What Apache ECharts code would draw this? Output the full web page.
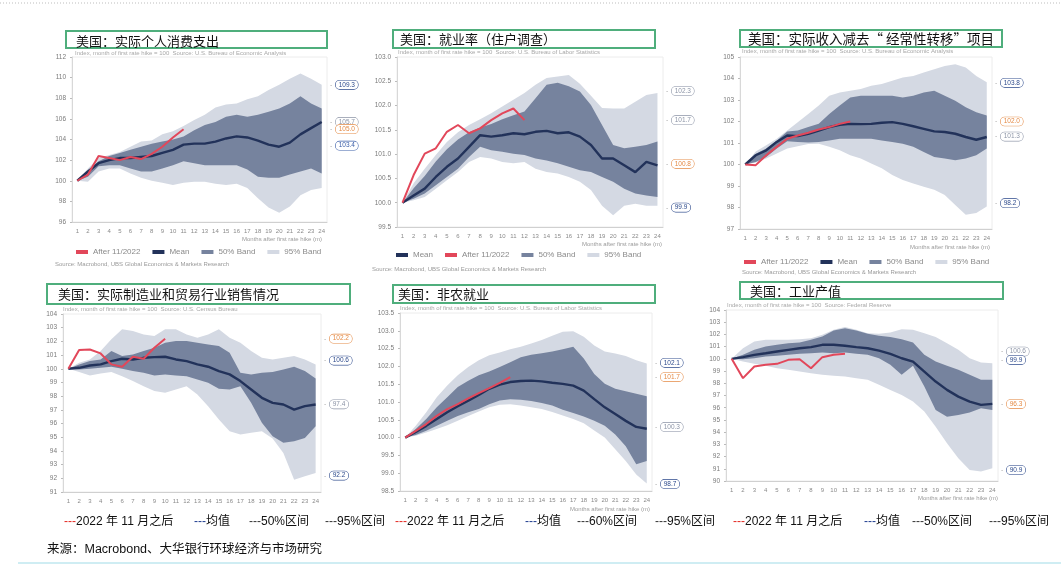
<!DOCTYPE html>
<html>
<head>
<meta charset="utf-8">
<script src="https://cdn.jsdelivr.net/npm/echarts@6/dist/echarts.min.js"></script>
<style>
  html, body { margin: 0; padding: 0; background: #ffffff; }
  #chart { width: 1061px; height: 566px; }
</style>
</head>
<body>
<div id="chart"></div>
<script>
// Months after the first rate hike (index = 100 in month 1)
const months = ['1','2','3','4','5','6','7','8','9','10','11','12','13','14','15','16','17','18','19','20','21','22','23','24'];

// 美国：实际个人消费支出
const pceMean  = [100, 100.9, 101.7, 102.0, 102.2, 102.2, 102.3, 102.4, 102.7, 103.0, 103.5, 103.6, 103.6, 103.8, 104.1, 104.3, 104.2, 103.9, 103.5, 103.3, 103.7, 104.5, 105.1, 105.7];
const pceAfter = [100, 100.6, 102.4, 102.2, 102.0, 102.3, 102.1, 102.6, 103.3, 104.2, 105.0];
const pce50Hi  = [100, 101.0, 101.9, 102.4, 102.7, 103.0, 103.3, 103.6, 103.8, 104.0, 104.3, 104.9, 105.4, 105.7, 106.2, 106.4, 106.2, 106.4, 106.7, 107.0, 107.5, 108.2, 107.5, 107.0];
const pce50Lo  = [100, 100.4, 101.4, 101.5, 101.5, 101.2, 100.9, 100.9, 101.2, 101.5, 101.9, 101.7, 101.5, 101.5, 101.5, 101.5, 101.1, 100.4, 100.3, 100.3, 100.6, 100.9, 101.2, 100.7];
const pce95Hi  = [100, 101.2, 102.2, 102.5, 102.8, 103.3, 103.8, 103.9, 104.5, 104.8, 105.3, 105.9, 106.4, 107.1, 107.4, 107.5, 107.9, 108.2, 108.8, 109.3, 109.9, 110.4, 109.9, 109.3];
const pce95Lo  = [100, 99.9, 100.9, 101.2, 101.2, 100.7, 100.3, 100.0, 99.8, 99.6, 99.8, 99.9, 99.9, 99.7, 99.6, 99.7, 99.3, 98.3, 97.4, 96.9, 97.5, 98.6, 99.1, 99.3];
const pceTags  = [109.3, 105.7, 105.0, 103.4];

// 美国：就业率（住户调查）
const empMean  = [100, 100.15, 100.29, 100.53, 100.74, 100.91, 101.15, 101.39, 101.36, 101.39, 101.43, 101.41, 101.46, 101.48, 101.43, 101.45, 101.36, 101.19, 100.91, 100.91, 100.77, 100.63, 100.84, 100.77];
const empAfter = [100, 100.57, 101.01, 101.12, 101.46, 101.60, 101.43, 101.53, 101.70, 101.84, 101.94, 101.70];
const emp50Hi  = [100, 100.30, 100.55, 100.85, 101.10, 101.30, 101.45, 101.55, 101.62, 101.72, 101.80, 101.88, 102.15, 102.43, 102.47, 102.40, 102.29, 102.01, 101.60, 101.19, 101.12, 101.15, 101.19, 101.26];
const emp50Lo  = [100, 100.08, 100.19, 100.36, 100.53, 100.70, 100.94, 101.15, 101.08, 101.05, 101.01, 100.98, 100.91, 100.87, 100.81, 100.74, 100.67, 100.63, 100.53, 100.43, 100.29, 100.19, 100.15, 100.12];
const emp95Hi  = [100, 100.40, 100.70, 100.98, 101.25, 101.45, 101.60, 101.72, 101.84, 101.98, 102.12, 102.26, 102.43, 102.57, 102.60, 102.63, 102.45, 102.20, 101.95, 101.94, 101.94, 102.08, 102.22, 102.26];
const emp95Lo  = [100, 100.05, 100.12, 100.29, 100.46, 100.63, 100.84, 100.94, 100.91, 100.84, 100.81, 100.84, 100.70, 100.63, 100.60, 100.53, 100.43, 100.26, 99.94, 99.74, 99.94, 99.98, 99.94, 99.94];
const empTags  = [102.3, 101.7, 100.8, 99.9];

// 美国：实际收入减去“经常性转移”项目
const incMean  = [100, 100.43, 100.66, 101.05, 101.35, 101.32, 101.43, 101.58, 101.74, 101.85, 101.89, 101.88, 101.89, 101.94, 101.97, 101.89, 101.78, 101.66, 101.54, 101.51, 101.43, 101.28, 101.15, 101.28];
const incAfter = [100, 99.97, 100.43, 100.82, 101.20, 101.35, 101.48, 101.63, 101.74, 101.89, 102.0];
const inc50Hi  = [100, 100.50, 100.74, 101.12, 101.54, 101.58, 101.74, 101.89, 102.35, 102.74, 103.12, 103.20, 103.20, 103.20, 103.20, 103.12, 103.20, 103.35, 103.43, 103.20, 102.97, 102.66, 102.43, 102.28];
const inc50Lo  = [100, 100.12, 100.35, 100.74, 101.08, 101.05, 101.02, 101.05, 101.12, 101.20, 101.20, 101.20, 101.20, 101.12, 101.05, 100.97, 100.82, 100.58, 100.35, 100.28, 100.20, 100.28, 100.43, 100.74];
const inc95Hi  = [100, 100.60, 100.89, 101.20, 101.58, 101.97, 102.35, 102.74, 103.20, 103.35, 103.43, 103.51, 103.66, 103.74, 103.89, 104.05, 104.12, 104.28, 104.43, 104.58, 104.66, 104.51, 104.12, 103.82];
const inc95Lo  = [100, 100.09, 100.28, 100.51, 100.74, 100.85, 100.95, 100.97, 100.82, 100.66, 100.43, 100.28, 100.05, 99.82, 99.51, 99.28, 99.12, 98.97, 98.82, 98.58, 98.12, 97.66, 97.74, 98.05];
const incTags  = [103.8, 102.0, 101.3, 98.2];

// 美国：实际制造业和贸易行业销售情况
const salesMean  = [100, 100.07, 100.24, 100.32, 100.56, 100.73, 100.68, 100.80, 100.85, 100.88, 100.68, 100.56, 100.32, 100.15, 99.83, 99.59, 99.10, 98.49, 97.88, 97.51, 97.39, 97.02, 97.27, 97.39];
const salesAfter = [100, 101.37, 101.41, 101.12, 100.32, 100.15, 100.88, 100.73, 101.54, 102.20];
const sales50Hi  = [100, 100.32, 100.56, 100.68, 101.29, 100.93, 101.05, 101.29, 101.54, 101.90, 102.02, 102.02, 101.90, 101.78, 101.66, 101.17, 99.71, 99.59, 99.71, 99.76, 99.95, 100.15, 99.83, 99.29];
const sales50Lo  = [100, 99.95, 100.0, 100.07, 100.15, 100.0, 99.83, 99.71, 99.51, 99.59, 99.51, 99.46, 99.22, 98.98, 98.54, 98.49, 98.73, 97.51, 96.05, 95.07, 94.59, 94.71, 94.95, 95.80];
const sales95Hi  = [100, 100.44, 100.68, 101.29, 102.15, 102.88, 102.76, 102.51, 102.39, 102.88, 102.88, 102.51, 102.27, 102.51, 102.88, 102.27, 101.90, 101.29, 100.80, 100.68, 100.80, 100.93, 100.68, 100.32];
const sales95Lo  = [100, 99.76, 99.51, 99.66, 99.76, 99.46, 99.10, 98.73, 98.37, 98.24, 98.49, 98.73, 98.12, 97.27, 96.29, 95.44, 95.20, 95.32, 95.44, 94.90, 93.85, 91.90, 92.15, 92.39];
const salesTags  = [102.2, 100.6, 97.4, 92.2];

// 美国：非农就业
const nfpMean  = [100, 100.16, 100.33, 100.52, 100.71, 100.88, 101.04, 101.20, 101.37, 101.49, 101.56, 101.59, 101.60, 101.58, 101.54, 101.51, 101.46, 101.32, 101.08, 100.85, 100.66, 100.47, 100.30, 100.25];
const nfpAfter = [100, 100.19, 100.38, 100.61, 100.80, 100.94, 101.10, 101.25, 101.39, 101.54, 101.70];
const nfp50Hi  = [100, 100.24, 100.52, 100.85, 101.13, 101.42, 101.60, 101.75, 101.86, 101.98, 102.12, 102.26, 102.33, 102.37, 102.42, 102.48, 102.55, 102.22, 101.79, 101.51, 101.37, 101.30, 101.23, 101.16];
const nfp50Lo  = [100, 100.07, 100.19, 100.33, 100.47, 100.61, 100.71, 100.80, 100.94, 101.04, 101.08, 101.06, 101.03, 100.97, 100.90, 100.78, 100.69, 100.59, 100.47, 100.33, 100.09, 99.76, 99.25, 99.34];
const nfp95Hi  = [100, 100.33, 100.71, 101.13, 101.46, 101.75, 101.98, 102.17, 102.31, 102.39, 102.48, 102.55, 102.64, 102.74, 102.86, 102.97, 102.99, 102.83, 102.59, 102.42, 102.36, 102.29, 102.17, 102.08];
const nfp95Lo  = [100, 100.05, 100.14, 100.24, 100.35, 100.47, 100.61, 100.73, 100.85, 100.92, 100.94, 100.90, 100.85, 100.80, 100.72, 100.62, 100.52, 100.40, 100.20, 100.00, 99.67, 99.34, 98.96, 98.71];
const nfpTags  = [102.1, 101.7, 100.3, 98.7];

// 美国：工业产值
const ipMean  = [100, 100.14, 100.33, 100.46, 100.60, 100.74, 100.87, 100.96, 101.15, 101.15, 101.07, 100.96, 100.87, 100.68, 100.41, 100.05, 99.78, 98.96, 98.14, 97.46, 96.91, 96.50, 96.23, 96.31];
const ipAfter = [100, 98.42, 99.37, 99.51, 99.59, 99.92, 99.97, 99.23, 100.14, 100.33, 100.41];
const ip50Hi  = [100, 100.33, 100.74, 101.01, 101.15, 101.28, 101.34, 101.56, 101.83, 102.32, 102.51, 102.32, 102.05, 101.89, 101.78, 101.61, 101.34, 100.33, 99.78, 99.43, 99.10, 98.69, 98.28, 98.28];
const ip50Lo  = [100, 99.97, 100.05, 100.19, 100.25, 100.33, 100.41, 100.46, 100.52, 100.46, 100.52, 100.41, 100.33, 100.05, 99.51, 98.69, 99.43, 97.73, 95.82, 95.27, 95.41, 95.60, 95.96, 95.82];
const ip95Hi  = [100, 100.87, 101.42, 101.56, 101.56, 101.56, 101.61, 101.69, 101.97, 102.38, 102.60, 102.38, 102.10, 102.05, 102.16, 102.43, 102.38, 102.10, 101.78, 101.28, 100.74, 100.05, 99.70, 99.64];
const ip95Lo  = [100, 99.78, 99.59, 99.43, 99.23, 99.10, 98.96, 98.83, 98.69, 98.61, 98.55, 98.42, 98.28, 97.87, 97.46, 97.05, 96.50, 95.68, 94.45, 93.09, 91.86, 90.90, 90.77, 91.04];
const ipTags  = [100.6, 99.9, 96.3, 90.9];

// Panel titles and footer text
const panelTitles = ['美国：实际个人消费支出', '美国：就业率（住户调查）', '美国：实际收入减去“ 经常性转移”项目',
                     '美国：实际制造业和贸易行业销售情况', '美国：非农就业', '美国：工业产值'];
const footerItems = [
  ['r', '2022 年 11 月之后'], ['b', '均值'], ['k', '50%区间'], ['k', '95%区间'],
  ['r', '2022 年 11 月之后'], ['b', '均值'], ['k', '60%区间'], ['k', '95%区间'],
  ['r', '2022 年 11 月之后'], ['b', '均值'], ['k', '50%区间'], ['k', '95%区间']
];
const footerSource = '来源：Macrobond、大华银行环球经济与市场研究';
const seriesNames = { after: 'After 11/2022', mean: 'Mean', b50: '50% Band', b95: '95% Band' };

// ---- styling ----
const C_LIGHT = '#d4d9e3';
const C_DARK = '#76839e';
const C_MEAN = '#22325a';
const C_RED = '#e2475a';
const TAG = { navy: '#2d4a8c', grey: '#8c94a6', orange: '#e48a45', blue: '#3b5ea8' };

const panels = [
  { mean: pceMean, after: pceAfter, hi50: pce50Hi, lo50: pce50Lo, hi95: pce95Hi, lo95: pce95Lo, tags: pceTags,
    tagColors: [TAG.navy, TAG.grey, TAG.orange, TAG.blue],
    grid: { left: 72, top: 57, width: 255, height: 165 }, y: { min: 96, max: 112, interval: 2, dec: 0 },
    box: { x: 66, y: 31, w: 261, h: 17, tx: 76, ty: 41, fs: 13 } },
  { mean: empMean, after: empAfter, hi50: emp50Hi, lo50: emp50Lo, hi95: emp95Hi, lo95: emp95Lo, tags: empTags,
    tagColors: [TAG.grey, TAG.grey, TAG.orange, TAG.navy],
    grid: { left: 397, top: 57, width: 266, height: 170 }, y: { min: 99.5, max: 103, interval: 0.5, dec: 1 },
    box: { x: 393, y: 30, w: 262, h: 18, tx: 400, ty: 39, fs: 13 } },
  { mean: incMean, after: incAfter, hi50: inc50Hi, lo50: inc50Lo, hi95: inc95Hi, lo95: inc95Lo, tags: incTags,
    tagColors: [TAG.navy, TAG.orange, TAG.grey, TAG.navy],
    grid: { left: 740, top: 57, width: 252, height: 172 }, y: { min: 97, max: 105, interval: 1, dec: 0 },
    box: { x: 740, y: 30, w: 262, h: 17, tx: 748, ty: 38.5, fs: 13.5 } },
  { mean: salesMean, after: salesAfter, hi50: sales50Hi, lo50: sales50Lo, hi95: sales95Hi, lo95: sales95Lo, tags: salesTags,
    tagColors: [TAG.orange, TAG.navy, TAG.grey, TAG.navy],
    grid: { left: 63, top: 314, width: 258, height: 178 }, y: { min: 91, max: 104, interval: 1, dec: 0 },
    box: { x: 47, y: 284, w: 303, h: 20, tx: 58, ty: 294, fs: 13 } },
  { mean: nfpMean, after: nfpAfter, hi50: nfp50Hi, lo50: nfp50Lo, hi95: nfp95Hi, lo95: nfp95Lo, tags: nfpTags,
    tagColors: [TAG.navy, TAG.orange, TAG.grey, TAG.navy],
    grid: { left: 400, top: 313, width: 252, height: 178 }, y: { min: 98.5, max: 103.5, interval: 0.5, dec: 1 },
    box: { x: 393, y: 285, w: 262, h: 18, tx: 398, ty: 294, fs: 13 } },
  { mean: ipMean, after: ipAfter, hi50: ip50Hi, lo50: ip50Lo, hi95: ip95Hi, lo95: ip95Lo, tags: ipTags,
    tagColors: [TAG.grey, TAG.navy, TAG.orange, TAG.navy],
    grid: { left: 726, top: 310, width: 272, height: 171 }, y: { min: 90, max: 104, interval: 1, dec: 0 },
    box: { x: 740, y: 282, w: 263, h: 17, tx: 750, ty: 291, fs: 13 } }
];

const CJK = '"Noto Sans CJK SC", "Noto Sans", sans-serif';
const LAT = '"Liberation Sans", Arial, "Noto Sans CJK SC", sans-serif';

const grids = [], xAxes = [], yAxes = [], series = [], graphics = [];

function diff(hi, lo) { return hi.map((v, k) => Math.round((v - lo[k]) * 1000) / 1000); }

panels.forEach((p, i) => {
  grids.push(Object.assign({ show: true, borderColor: '#ececec', borderWidth: 1 }, p.grid));
  xAxes.push({
    gridIndex: i, type: 'category', data: months, boundaryGap: true,
    axisLine: { lineStyle: { color: '#d0d0d0' } }, axisTick: { show: false },
    axisLabel: { interval: 0, fontSize: 6, color: '#8a8a8a', margin: 6, fontFamily: LAT }
  });
  yAxes.push({
    gridIndex: i, type: 'value', min: p.y.min, max: p.y.max, interval: p.y.interval,
    axisLine: { show: true, lineStyle: { color: '#d8d8d8' } },
    axisTick: { show: true, length: 2, lineStyle: { color: '#bbbbbb' } },
    splitLine: { show: false },
    axisLabel: { fontSize: 6.5, color: '#7a7a7a', margin: 6, fontFamily: LAT,
                 formatter: v => v.toFixed(p.y.dec) }
  });

  const common = { xAxisIndex: i, yAxisIndex: i, type: 'line', symbol: 'none', silent: true, animation: false };
  // 95% band: invisible lower bound + stacked width
  series.push(Object.assign({}, common, { name: '95 lo ' + i, data: p.lo95, stack: 'b95_' + i,
    lineStyle: { width: 0, opacity: 0 }, z: 1 }));
  series.push(Object.assign({}, common, { name: seriesNames.b95, data: diff(p.hi95, p.lo95), stack: 'b95_' + i,
    lineStyle: { width: 0, opacity: 0 }, itemStyle: { color: C_LIGHT }, areaStyle: { color: C_LIGHT, opacity: 1 }, z: 1 }));
  // 50% band
  series.push(Object.assign({}, common, { name: '50 lo ' + i, data: p.lo50, stack: 'b50_' + i,
    lineStyle: { width: 0, opacity: 0 }, z: 2 }));
  series.push(Object.assign({}, common, { name: seriesNames.b50, data: diff(p.hi50, p.lo50), stack: 'b50_' + i,
    lineStyle: { width: 0, opacity: 0 }, itemStyle: { color: C_DARK }, areaStyle: { color: C_DARK, opacity: 1 }, z: 2 }));
  // Mean path, with the end-value tags in the right margin
  series.push(Object.assign({}, common, {
    name: seriesNames.mean, data: p.mean, itemStyle: { color: C_MEAN },
    lineStyle: { color: C_MEAN, width: 2.4 }, z: 3,
    markLine: {
      silent: true, symbol: ['none', 'none'], animation: false,
      lineStyle: { color: 'rgba(0,0,0,0)', width: 0, type: 'solid' },
      label: { show: true, position: 'end', distance: 3 },
      emphasis: { disabled: true },
      data: p.tags.map((v, k) => ({
        yAxis: v,
        label: {
          show: true,
          formatter: '{k|-} {v|' + v.toFixed(1) + '}',
          rich: {
            k: { color: '#b0b0b0', fontSize: 7, fontFamily: LAT },
            v: { color: p.tagColors[k], fontSize: 6.5, fontFamily: LAT, backgroundColor: '#ffffff',
                 borderColor: p.tagColors[k], borderWidth: 0.6, borderRadius: 4, padding: [1, 3] }
          }
        }
      }))
    }
  }));
  // Path since 11/2022
  series.push(Object.assign({}, common, {
    name: seriesNames.after, data: p.after, itemStyle: { color: C_RED },
    lineStyle: { color: C_RED, width: 2 }, z: 4
  }));

  // Title box
  graphics.push({ type: 'rect', shape: { x: p.box.x, y: p.box.y, width: p.box.w, height: p.box.h },
    style: { fill: '#ffffff', stroke: '#4fae7c', lineWidth: 2 }, z: 100 });
  graphics.push({ type: 'text', x: p.box.tx, y: p.box.ty, z: 101,
    style: { text: panelTitles[i], font: 'normal ' + p.box.fs + 'px ' + CJK, fill: '#111111',
             align: 'left', verticalAlign: 'middle' } });
});

// Small grey notes inside each panel
const SMALL = '6px ' + LAT;
const notes = [
  [75, 53, 'Index, month of first rate hike = 100  Source: U.S. Bureau of Economic Analysis'],
  [398, 52, 'Index, month of first rate hike = 100  Source: U.S. Bureau of Labor Statistics'],
  [742, 51, 'Index, month of first rate hike = 100  Source: U.S. Bureau of Economic Analysis'],
  [63, 309, 'Index, month of first rate hike = 100  Source: U.S. Census Bureau'],
  [400, 308, 'Index, month of first rate hike = 100  Source: U.S. Bureau of Labor Statistics'],
  [727, 305, 'Index, month of first rate hike = 100  Source: Federal Reserve']
];
notes.forEach(n => graphics.push({ type: 'text', x: n[0], y: n[1], style: { text: n[2], font: SMALL, fill: '#a8a8a8', verticalAlign: 'middle' } }));

const axisNames = [[322, 239], [662, 244], [990, 247], [650, 509], [998, 498]];
axisNames.forEach(a => graphics.push({ type: 'text', x: a[0], y: a[1],
  style: { text: 'Months after first rate hike (m)', font: SMALL, fill: '#9a9a9a', align: 'right', verticalAlign: 'middle' } }));

const sources = [[55, 264], [372, 269], [742, 272]];
sources.forEach(s => graphics.push({ type: 'text', x: s[0], y: s[1],
  style: { text: 'Source: Macrobond, UBS Global Economics & Markets Research', font: SMALL, fill: '#9a9a9a', verticalAlign: 'middle' } }));

// Shared footer legend row
const footerX = [64, 194, 249, 325, 395, 525, 577, 655, 733, 864, 912, 989];
footerItems.forEach((it, k) => {
  graphics.push({ type: 'text', x: footerX[k], y: 522,
    style: { text: '{' + it[0] + '|---}' + it[1], font: '12px ' + LAT, fill: '#111111', verticalAlign: 'middle',
             rich: { r: { fill: '#e3261f', font: '12px ' + LAT }, b: { fill: '#1d3b8e', font: '12px ' + LAT }, k: { fill: '#333333', font: '12px ' + LAT } } } });
});
graphics.push({ type: 'text', x: 47, y: 550,
  style: { text: footerSource, font: '12.5px ' + LAT, fill: '#111111', verticalAlign: 'middle' } });

// Page rules
graphics.push({ type: 'line', shape: { x1: 0, y1: 3, x2: 1061, y2: 3 }, style: { stroke: '#bdbdbd', lineWidth: 1, lineDash: [1, 2] } });
graphics.push({ type: 'line', shape: { x1: 18, y1: 563, x2: 1061, y2: 563 }, style: { stroke: '#bfe7ef', lineWidth: 1.5 } });

// Per-panel legends (top row)
const legendData = [
  [seriesNames.after, seriesNames.mean, seriesNames.b50, seriesNames.b95],
  [seriesNames.mean, seriesNames.after, seriesNames.b50, seriesNames.b95],
  [seriesNames.after, seriesNames.mean, seriesNames.b50, seriesNames.b95]
];
const legendPos = [[76, 248], [396, 251], [744, 258]];
const legends = legendData.map((d, k) => ({
  left: legendPos[k][0], top: legendPos[k][1], selectedMode: false,
  itemWidth: 12, itemHeight: 4, itemGap: 12, padding: 0,
  textStyle: { fontSize: 8, color: '#8a8a8a', fontFamily: LAT },
  data: d.map(n => ({ name: n, icon: 'rect' }))
}));

const chart = echarts.init(document.getElementById('chart'), null, { renderer: 'canvas' });
chart.setOption({
  animation: false,
  backgroundColor: '#ffffff',
  grid: grids,
  xAxis: xAxes,
  yAxis: yAxes,
  legend: legends,
  series: series,
  graphic: graphics
});
</script>
</body>
</html>
